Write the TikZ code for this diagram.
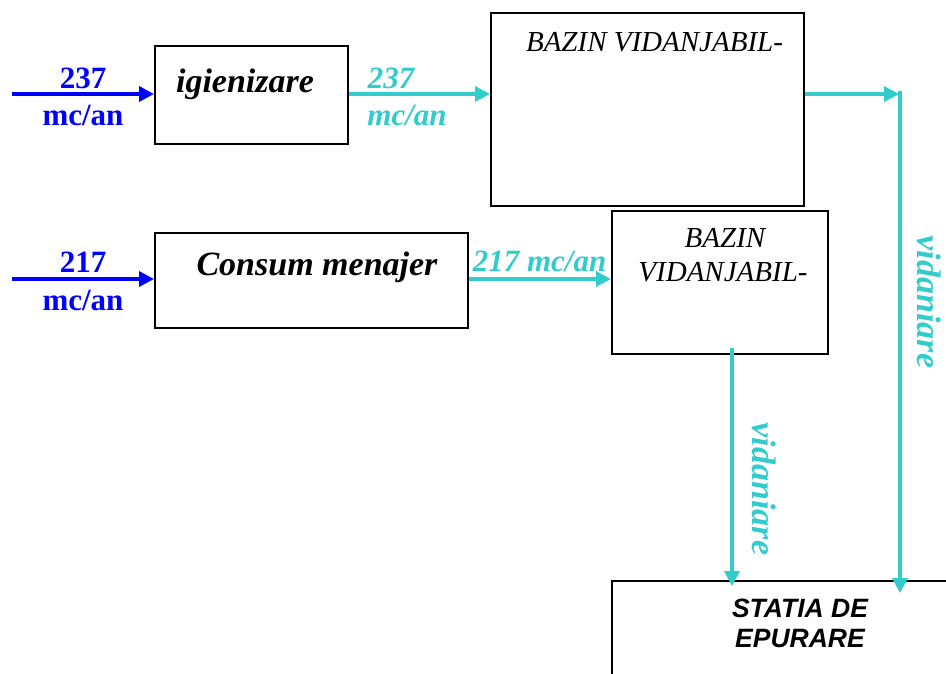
\documentclass[tikz,border=0pt]{standalone}
\usepackage{fontspec}
\setmainfont{Liberation Serif}
\newfontfamily\arialfont{Liberation Sans}
\usetikzlibrary{arrows.meta}
\definecolor{flowblue}{RGB}{0,0,255}
\definecolor{flowcyan}{RGB}{51,204,204}
\begin{document}
\begin{tikzpicture}[x=1pt,y=-1pt,
  box/.style={draw=black,line width=2pt,inner sep=0pt,fill=none},
  inflow/.style={draw=flowblue,line width=3.5pt,-{Triangle[length=15pt,width=15pt]}},
  outflow/.style={draw=flowcyan,line width=3.5pt,-{Triangle[length=15pt,width=15pt]}},
  numlab/.style={text=flowblue,font=\fontsize{31}{33}\selectfont\bfseries,anchor=base,inner sep=0pt},
  cyanlab/.style={text=flowcyan,font=\fontsize{31}{33}\selectfont\bfseries\itshape,anchor=base,inner sep=0pt},
  boxtext/.style={font=\fontsize{34}{36}\selectfont\bfseries\itshape,anchor=base,inner sep=0pt},
  bazintext/.style={font=\fontsize{29}{31}\selectfont\itshape,anchor=base,inner sep=0pt},
  vtext/.style={text=flowcyan,font=\fontsize{34}{36}\selectfont\bfseries\itshape,rotate=-90,inner sep=0pt},
  sttext/.style={font=\arialfont\fontsize{26.5}{28}\selectfont\bfseries\itshape,anchor=base,inner sep=0pt}]
\useasboundingbox (0,0) rectangle (946,673);
\clip (0,0) rectangle (946,673);
\fill[white] (0,0) rectangle (946,673);

% boxes
\node[box,minimum width=193pt,minimum height=98pt] (ig) at (251.5,95) {};
\node[box,minimum width=313pt,minimum height=193pt] (b1) at (647.5,109.5) {};
\node[box,minimum width=313pt,minimum height=95pt] (cm) at (311.5,280.5) {};
\node[box,minimum width=216pt,minimum height=143pt] (b2) at (720,282.5) {};
\node[box,minimum width=360pt,minimum height=130pt] (st) at (792,646) {};

% box texts
\node[boxtext] (tig) at (245,92) {igienizare};
\node[boxtext] (tcm) at (317,275) {Consum menajer};
\node[bazintext] (tb1) at (654.5,51) {BAZIN VIDANJABIL-};
\node[bazintext] (tb2a) at (725,247) {BAZIN};
\node[bazintext] (tb2b) at (723,281) {VIDANJABIL-};
\node[sttext] (ts1) at (800,617) {STATIA DE};
\node[sttext] (ts2) at (800,647) {EPURARE};

% free ends
\coordinate (in1) at (12,94);
\coordinate (in2) at (12,279);
\coordinate (c1) at (899,94);
\coordinate (vtop) at (900,91);
\coordinate (vbot) at (900,593);
\coordinate (d2top) at (732,348);
\coordinate (d2bot) at (732,586);

% connectors
\draw[inflow] (in1) -- (ig.west |- in1);
\draw[inflow] (in2) -- (cm.west |- in2);
\draw[outflow] (ig.east |- in1) -- (b1.west |- in1);
\draw[outflow] (cm.east |- in2) -- (b2.west |- in2);
\draw[outflow] (b1.east |- c1) -- (c1);
\draw[outflow] (vtop) -- (vbot);
\draw[outflow] (d2top) -- (d2bot);

% connector labels
\node[numlab] (l1a) at (83,88) {237};
\node[numlab] (l1b) at (83,125) {mc/an};
\node[numlab] (l2a) at (83,272) {217};
\node[numlab] (l2b) at (83,310) {mc/an};
\node[cyanlab] (l3a) at (391,88) {237};
\node[cyanlab] (l3b) at (407,125) {mc/an};
\node[cyanlab] (l4) at (539.5,271) {217 mc/an};
\node[vtext] (v1) at (929,302) {vidaniare};
\node[vtext] (v2) at (764,489) {vidaniare};
\end{tikzpicture}
\end{document}
